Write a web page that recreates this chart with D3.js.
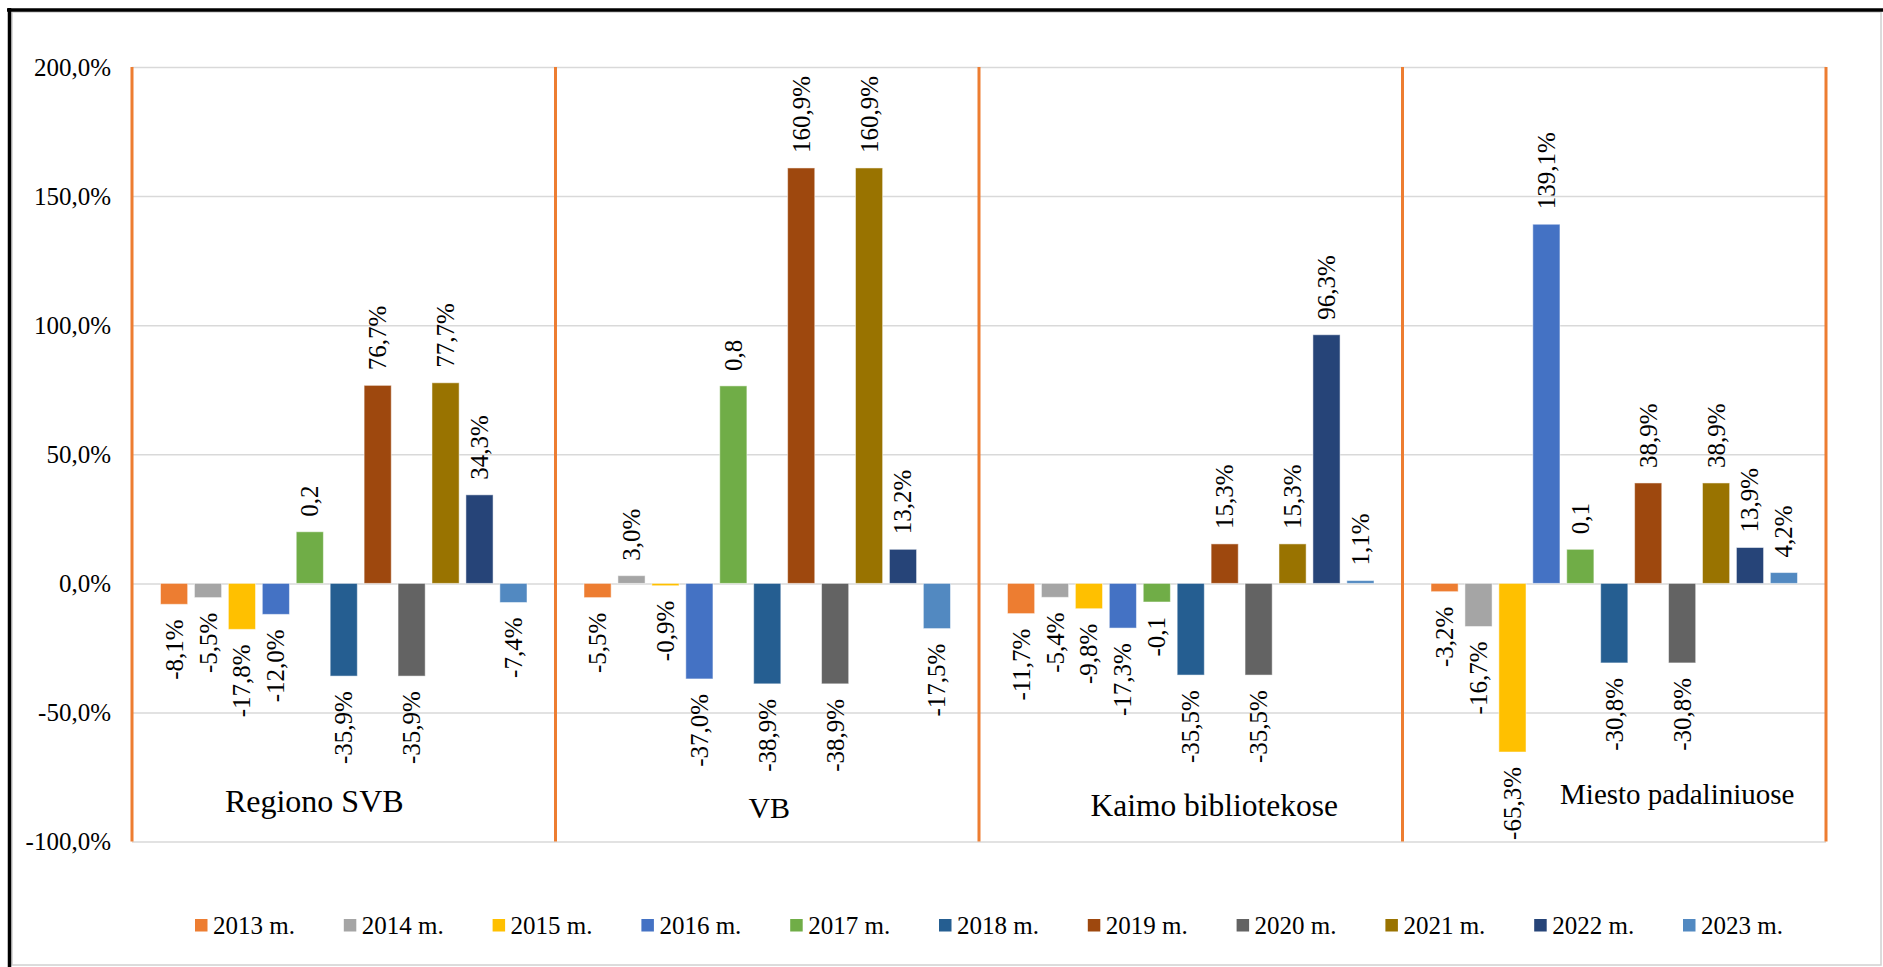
<!DOCTYPE html>
<html>
<head>
<meta charset="utf-8">
<script src="https://cdn.jsdelivr.net/npm/d3@7"></script>
<style>
  html, body { margin: 0; padding: 0; background: #fff; }
  svg text { font-family: "Liberation Serif", Tinos, "Times New Roman", "DejaVu Serif", "Noto Serif", serif; fill: #000; }
</style>
</head>
<body>
<svg id="chart" width="1883" height="967" font-family='"Liberation Serif", Tinos, "Times New Roman", "DejaVu Serif", serif'></svg>
<script>
// ---- data ----
const categories = ["Regiono SVB", "VB", "Kaimo bibliotekose", "Miesto padaliniuose"];
const years = ["2013 m.", "2014 m.", "2015 m.", "2016 m.", "2017 m.", "2018 m.", "2019 m.", "2020 m.", "2021 m.", "2022 m.", "2023 m."];
const colors = ["#ED7D31", "#A5A5A5", "#FFC000", "#4472C4", "#70AD47", "#255E91", "#9E480E", "#636363", "#997300", "#264478", "#5289C1"];
// values per year, across the 4 categories
const v2013 = [-8.1, -5.5, -11.7, -3.2];
const v2014 = [-5.5, 3.0, -5.4, -16.7];
const v2015 = [-17.8, -0.9, -9.8, -65.3];
const v2016 = [-12.0, -37.0, -17.3, 139.1];
const v2017 = [20.0, 76.5, -7.2, 13.2];
const v2018 = [-35.9, -38.9, -35.5, -30.8];
const v2019 = [76.7, 160.9, 15.3, 38.9];
const v2020 = [-35.9, -38.9, -35.5, -30.8];
const v2021 = [77.7, 160.9, 15.3, 38.9];
const v2022 = [34.3, 13.2, 96.3, 13.9];
const v2023 = [-7.4, -17.5, 1.1, 4.2];
const seriesValues = [v2013, v2014, v2015, v2016, v2017, v2018, v2019, v2020, v2021, v2022, v2023];
// label texts shown in the picture for 2017 (differ from bar heights)
const labels2017 = ["0,2", "0,8", "-0,1", "0,1"];
const yTicks = [-100, -50, 0, 50, 100, 150, 200];

// ---- layout ----
const W = 1883, H = 967;
const plot = { left: 132, right: 1826, top: 67, bottom: 841.6 };
const svg = d3.select("#chart");
const FONT = '"Liberation Serif", Tinos, "Times New Roman", "DejaVu Serif", serif';

// frame
svg.append("rect").attr("x", 12).attr("y", 12).attr("width", 1869).attr("height", 953)
  .attr("fill", "#fff").attr("stroke", "#d0d0d0").attr("stroke-width", 1.5);
svg.append("line").attr("x1", 7).attr("x2", W).attr("y1", 10).attr("y2", 10)
  .attr("stroke", "#000").attr("stroke-width", 3.5);
svg.append("line").attr("x1", 9.5).attr("x2", 9.5).attr("y1", 8).attr("y2", H)
  .attr("stroke", "#000").attr("stroke-width", 3.5);

const x0 = d3.scaleBand().domain(categories).range([plot.left, plot.right]).padding(0);
const x1 = d3.scaleBand().domain(years).range([28.5, x0.bandwidth() - 28.5]).paddingInner(0.2);
const y = d3.scaleLinear().domain([-100, 200]).range([plot.bottom, plot.top]);
const color = d3.scaleOrdinal().domain(years).range(colors);

const fmtNum = d3.format(".1f");
const pct = v => fmtNum(v).replace("\u2212", "-").replace(".", ",") + "%";

// y axis with gridlines
const yAxis = d3.axisLeft(y).tickValues(yTicks)
  .tickSize(-(plot.right - plot.left)).tickPadding(21)
  .tickFormat(d => pct(d));
const gy = svg.append("g").attr("transform", `translate(${plot.left},0)`).call(yAxis);
gy.attr("font-family", FONT);
gy.select(".domain").remove();
gy.selectAll(".tick line").attr("stroke", "#d9d9d9").attr("stroke-width", 1.5);
gy.selectAll(".tick text").attr("font-size", 25).attr("fill", "#000")
  .style("font-family", FONT);

// orange separators
const seps = categories.map(c => x0(c)).concat([x0.range()[1]]);
svg.append("g").selectAll("line").data(seps).join("line")
  .attr("x1", d => d).attr("x2", d => d)
  .attr("y1", y(200)).attr("y2", y(-100))
  .attr("stroke", "#ED7D31").attr("stroke-width", 3);

// bars
const records = [];
categories.forEach((c, ci) => {
  years.forEach((yr, si) => {
    const v = seriesValues[si][ci];
    const label = si === 4 ? labels2017[ci] : pct(v);
    records.push({ c, yr, v, label });
  });
});

svg.append("g").selectAll("rect").data(records).join("rect")
  .attr("x", d => x0(d.c) + x1(d.yr))
  .attr("width", x1.bandwidth())
  .attr("y", d => y(Math.max(0, d.v)))
  .attr("height", d => Math.abs(y(d.v) - y(0)))
  .attr("fill", d => color(d.yr))
  .attr("stroke", "#fff").attr("stroke-opacity", 0.5).attr("stroke-width", 1);

// data labels
svg.append("g").selectAll("text").data(records).join("text")
  .attr("transform", d => {
    const cx = x0(d.c) + x1(d.yr) + x1.bandwidth() / 2;
    const yy = d.v >= 0 ? y(d.v) - 15 : y(d.v) + 15;
    return `translate(${cx},${yy}) rotate(-90)`;
  })
  .attr("text-anchor", d => d.v >= 0 ? "start" : "end")
  .attr("dominant-baseline", "central")
  .attr("font-size", 25)
  .style("font-family", FONT)
  .text(d => d.label);

// category labels (text boxes placed inside each panel)
const catLabelLayout = [
  { dx: -29.5, y: 812, size: 32 },
  { dx: 2, y: 818, size: 30 },
  { dx: 23.5, y: 816, size: 31.5 },
  { dx: 63, y: 804, size: 29 }
];
svg.append("g").selectAll("text").data(categories).join("text")
  .attr("x", (d, i) => x0(d) + x0.bandwidth() / 2 + catLabelLayout[i].dx)
  .attr("y", (d, i) => catLabelLayout[i].y)
  .attr("text-anchor", "middle")
  .attr("font-size", (d, i) => catLabelLayout[i].size)
  .style("font-family", FONT)
  .text(d => d);

// legend
const legend = svg.append("g").attr("transform", "translate(195,919)");
const item = legend.selectAll("g").data(years).join("g")
  .attr("transform", (d, i) => `translate(${i * 148.8},0)`);
item.append("rect").attr("width", 12.5).attr("height", 12.5).attr("fill", d => color(d));
item.append("text").attr("x", 18).attr("y", 15.3).attr("font-size", 25)
  .style("font-family", FONT).text(d => d);
</script>
</body>
</html>
